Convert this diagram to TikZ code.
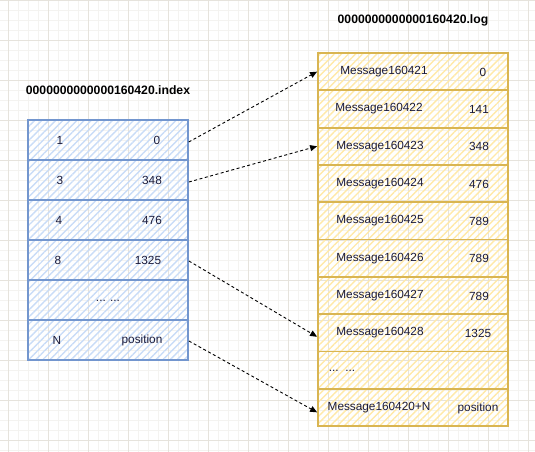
\documentclass[tikz,border=0pt]{standalone}
\usepackage{fontspec}
\setmainfont{Liberation Sans}
\usetikzlibrary{arrows.meta,patterns.meta}
\definecolor{gridmaj}{HTML}{E6E3DC}
\definecolor{gridmin}{HTML}{F4F3F0}
\definecolor{bluestroke}{HTML}{7396CE}
\definecolor{bluehatch}{HTML}{C9DCF7}
\definecolor{yelstroke}{HTML}{D9B552}
\definecolor{yelhatch}{HTML}{FFE9A8}
\definecolor{txtcol}{HTML}{1A1A3A}
\tikzset{
  txt/.style={font=\fontsize{11.8}{14}\selectfont, inner sep=0pt, text=txtcol},
  ttl/.style={font=\fontsize{12.2}{14}\selectfont\bfseries, inner sep=0pt},
  idxrow/.style={draw=bluestroke, line width=1.8pt, minimum width=160pt, minimum height=40pt, inner sep=0pt,
     pattern={Lines[angle=45,distance=5pt,line width=1.4pt]}, pattern color=bluehatch},
  logrow/.style={draw=yelstroke, line width=1.8pt, minimum width=190pt, minimum height=37.3pt, inner sep=0pt,
     pattern={Lines[angle=45,distance=5pt,line width=1.4pt]}, pattern color=yelhatch},
  link/.style={draw=black, line width=0.9pt, dash pattern=on 3pt off 2.5pt, -{Triangle[length=7pt,width=6pt]}}
}
\begin{document}
\begin{tikzpicture}[x=1pt,y=-1pt]
\useasboundingbox (0,0) rectangle (535,452);
% grid
\foreach \x in {8,18,...,535} \draw[gridmin, line width=0.6pt] (\x,0) -- (\x,452);
\foreach \y in {0,10,...,452} \draw[gridmin, line width=0.6pt] (0,\y) -- (535,\y);
\foreach \x in {8,48,...,535} \draw[gridmaj, line width=0.9pt] (\x,0) -- (\x,452);
\foreach \y in {0,40,...,452} \draw[gridmaj, line width=0.9pt] (0,\y) -- (535,\y);

% titles
\node[ttl] (tidx) at (108,90) {0000000000000160420.index};
\node[ttl] (tlog) at (413,20) {0000000000000160420.log};

% index rows
\node[idxrow] (i1) at (108,140) {};
\node[idxrow] (i2) at (108,180) {};
\node[idxrow] (i3) at (108,220) {};
\node[idxrow] (i4) at (108,260) {};
\node[idxrow] (i5) at (108,300) {};
\node[idxrow] (i6) at (108,340) {};
\node[txt] (i1a) at (60,140) {1};
\node[txt] (i1b) at (157,140) {0};
\node[txt] (i2a) at (60,180) {3};
\node[txt] (i2b) at (152,180) {348};
\node[txt] (i3a) at (59,220) {4};
\node[txt] (i3b) at (152,220) {476};
\node[txt] (i4a) at (58,260) {8};
\node[txt] (i4b) at (148,260) {1325};
\node[txt] (i5a) at (108,301) {... ...};
\node[txt] (i6a) at (57,340) {N};
\node[txt] (i6b) at (142,340) {position};

% log rows
\foreach \i in {1,...,10} {
  \node[logrow] (l\i) at (413,{53+(\i-0.5)*37.3}) {};
}
\node[txt] (m1) at (384,72) {Message160421};
\node[txt] (v1) at (483,72) {0};
\node[txt] (m2) at (379,109) {Message160422};
\node[txt] (v2) at (479,109) {141};
\node[txt] (m3) at (380,146.5) {Message160423};
\node[txt] (v3) at (479,146.5) {348};
\node[txt] (m4) at (380,184) {Message160424};
\node[txt] (v4) at (479,184) {476};
\node[txt] (m5) at (380,221) {Message160425};
\node[txt] (v5) at (479,221) {789};
\node[txt] (m6) at (380,258.5) {Message160426};
\node[txt] (v6) at (479,258.5) {789};
\node[txt] (m7) at (380,296) {Message160427};
\node[txt] (v7) at (479,296) {789};
\node[txt] (m8) at (380,333) {Message160428};
\node[txt] (v8) at (478,333) {1325};
\node[txt] (m9) at (342,371) {...~~...};
\node[txt] (m10) at (379,408) {Message160420+N};
\node[txt] (v10) at (478,408) {position};

% links
\draw[link] ([yshift=-2pt]i1.east) -- (l1.west);
\draw[link] ([yshift=-2pt]i2.east) -- (l3.west);
\draw[link] ([yshift=-1pt]i4.east) -- ([yshift=-4pt]l8.west);
\draw[link] ([yshift=-1pt]i6.east) -- ([yshift=-5pt]l10.west);
\end{tikzpicture}
\end{document}
